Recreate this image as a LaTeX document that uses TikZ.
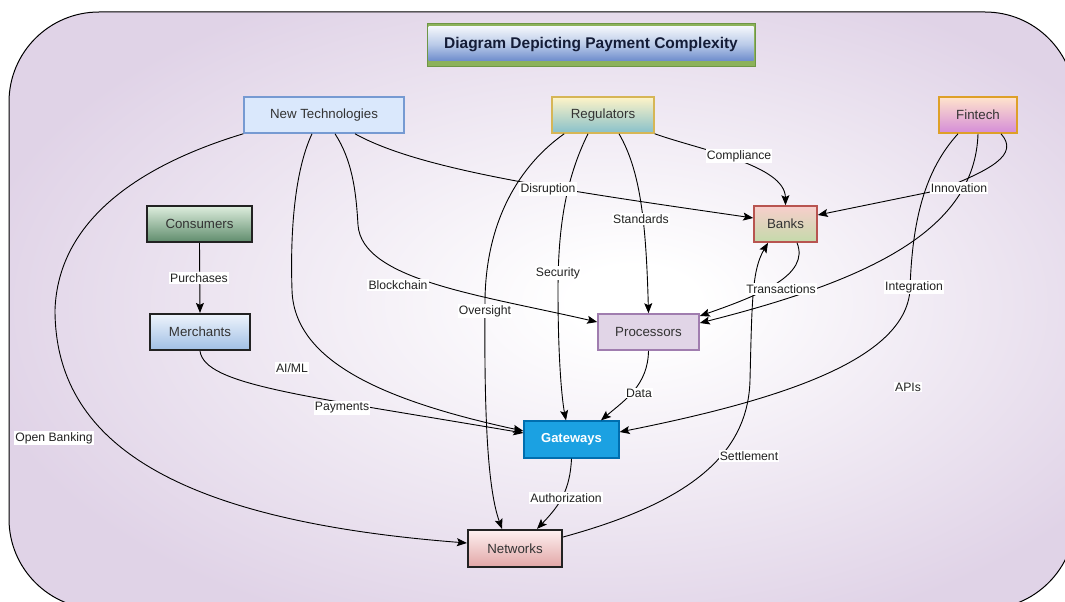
\documentclass[tikz,border=0pt]{standalone}
\usepackage{fontspec}
\setmainfont{Liberation Sans}
\usetikzlibrary{arrows.meta,calc}
\definecolor{lav}{HTML}{E0D3E7}
\definecolor{txt}{HTML}{333333}
\definecolor{lbltxt}{HTML}{222222}
\pgfdeclareradialshading{bgshade}{\pgfpoint{4.6bp}{0.8bp}}{color(0bp)=(white); color(3bp)=(white); color(29bp)=(lav); color(50bp)=(lav)}
\tikzset{
  box/.style={rectangle, minimum height=36pt, inner sep=0pt, font=\fontsize{13.3}{15}\selectfont, text=txt, line width=1.6pt},
  lbl/.style={fill=white, inner sep=1.2pt, font=\fontsize{12.2}{14}\selectfont, text=lbltxt},
  conn/.style={line width=0.9pt, draw=black, -{Stealth[length=10pt,width=8pt,inset=2pt]}},
}
\begin{document}
\begin{tikzpicture}[x=1pt,y=-1pt]
\useasboundingbox (0,0) rectangle (1065,602);
\clip (0,0) rectangle (1065,602);
\fill[white] (0,0) rectangle (1065,602);
\shadedraw[shading=bgshade, draw=black, line width=1pt, rounded corners=90pt] (9,12) rectangle (1075,609);

% title
\node[rectangle, minimum width=328pt, minimum height=43pt, inner sep=0pt, fill={rgb,255:red,140;green,178;blue,90}, draw={rgb,255:red,110;green,150;blue,70}, line width=0.8pt,
  path picture={\shade[top color=white, bottom color={rgb,255:red,85;green,120;blue,195}, middle color={rgb,255:red,185;green,202;blue,232}]
   ([xshift=1.5pt,yshift=-4pt]path picture bounding box.north west) rectangle ([xshift=-1.5pt,yshift=5pt]path picture bounding box.south east);},
  font=\fontsize{15.5}{18}\selectfont\bfseries, text={rgb,255:red,20;green,28;blue,55}] (title) at (591,44.5) {Diagram Depicting Payment Complexity};

% nodes
\node[box, minimum width=160pt, fill={rgb,255:red,218;green,232;blue,252}, draw={rgb,255:red,118;green,154;blue,210}] (nt) at (324,115) {New Technologies};
\node[box, minimum width=102pt, top color={rgb,255:red,255;green,244;blue,200}, bottom color={rgb,255:red,135;green,192;blue,202}, draw={rgb,255:red,214;green,182;blue,86}] (reg) at (603,115) {Regulators};
\node[box, minimum width=78pt, top color={rgb,255:red,255;green,228;blue,204}, bottom color={rgb,255:red,212;green,140;blue,216}, draw={rgb,255:red,222;green,160;blue,40}] (fin) at (978,115) {Fintech};
\node[box, minimum width=105pt, line width=2.2pt, top color={rgb,255:red,222;green,238;blue,222}, bottom color={rgb,255:red,95;green,140;blue,108}, draw={rgb,255:red,34;green,34;blue,34}] (cons) at (199.5,224) {Consumers};
\node[box, minimum width=100pt, line width=2.2pt, top color={rgb,255:red,238;green,244;blue,252}, bottom color={rgb,255:red,160;green,190;blue,228}, draw={rgb,255:red,34;green,34;blue,34}] (merch) at (200,332) {Merchants};
\node[box, minimum width=63pt, top color={rgb,255:red,248;green,206;blue,204}, bottom color={rgb,255:red,196;green,218;blue,170}, draw={rgb,255:red,184;green,84;blue,80}] (banks) at (785.5,224) {Banks};
\node[box, minimum width=101pt, fill={rgb,255:red,225;green,213;blue,231}, draw={rgb,255:red,160;green,125;blue,175}] (proc) at (648.5,332) {Processors};
\node[box, minimum width=95pt, minimum height=37pt, line width=1.3pt, fill={rgb,255:red,27;green,161;blue,226}, draw={rgb,255:red,0;green,110;blue,175}, text=white, font=\fontsize{13}{15}\selectfont\bfseries] (gate) at (571.5,439.5) {Gateways};
\node[box, minimum width=94pt, minimum height=37pt, line width=2.2pt, top color={rgb,255:red,253;green,240;blue,240}, bottom color={rgb,255:red,226;green,166;blue,166}, draw={rgb,255:red,34;green,34;blue,34}] (net) at (515,548.5) {Networks};

% connectors
\draw[conn] (nt.south west) .. controls (140,165) and (58,220) .. (55,310) .. controls (55,440) and (170,520) .. ([yshift=5.5pt]net.west);
\draw[conn] ([xshift=-12pt]nt.south) .. controls (295,170) and (290,230) .. (292,290) .. controls (294,360) and (380,400) .. ([yshift=8.5pt]gate.west);
\draw[conn] ([xshift=11pt]nt.south) .. controls (352,160) and (356,190) .. (358,225) .. controls (362,280) and (480,295) .. ([yshift=10pt]proc.west);
\draw[conn] ([xshift=31pt]nt.south) .. controls (420,170) and (560,190) .. ([yshift=6pt]banks.west);
\draw[conn] ([xshift=13pt]reg.south west) .. controls (520,165) and (486,220) .. (485,300) .. controls (484,420) and (488,490) .. ([xshift=-13pt]net.north);
\draw[conn] ([xshift=-15pt]reg.south) .. controls (565,180) and (558,230) .. (558,290) .. controls (558,360) and (562,400) .. ([xshift=-5.5pt]gate.north);
\draw[conn] ([xshift=16pt]reg.south) .. controls (640,170) and (646,220) .. (proc.north);
\draw[conn] (reg.south east) .. controls (700,150) and (785,165) .. (banks.north);
\draw[conn] ([xshift=23pt]fin.south) .. controls (1020,155) and (990,170) .. (940,190) -- ([yshift=9pt]banks.east);
\draw[conn] (fin.south) .. controls (975,230) and (870,280) .. ([yshift=9pt]proc.east);
\draw[conn] ([xshift=-20pt]fin.south) .. controls (925,170) and (912,220) .. (910,290) .. controls (905,360) and (780,400) .. ([yshift=7.5pt]gate.east);
\draw[conn] ([xshift=11.5pt]banks.south) .. controls (810,275) and (760,295) .. ([yshift=16pt]proc.east);
\draw[conn] (proc.south) .. controls (648,385) and (625,400) .. ([xshift=29.5pt]gate.north);
\draw[conn] (merch.south) .. controls (205,385) and (300,395) .. ([yshift=6.5pt]gate.west);
\draw[conn] (cons.south) -- (merch.north);
\draw[conn] (gate.south) .. controls (570,490) and (560,505) .. ([xshift=22pt]net.north);
\draw[conn] ([yshift=11.5pt]net.east) .. controls (680,505) and (748,460) .. (750,380) .. controls (752,300) and (752,270) .. ([xshift=-17.5pt]banks.south);

% labels
\node[lbl] (lob) at (54,438) {Open Banking};
\node[lbl] (lai) at (292,368) {AI/ML};
\node[lbl] (lbc) at (398,285) {Blockchain};
\node[lbl] (ldi) at (548,189) {Disruption};
\node[lbl] (lov) at (485,311) {Oversight};
\node[lbl] (lse) at (558,273) {Security};
\node[lbl] (lst) at (641,219) {Standards};
\node[lbl] (lco) at (739,156) {Compliance};
\node[lbl] (lin) at (959,188) {Innovation};
\node[lbl] (lig) at (914,287) {Integration};
\node[lbl] (lap) at (908,387) {APIs};
\node[lbl] (ltr) at (781,289) {Transactions};
\node[lbl] (lda) at (639,393) {Data};
\node[lbl] (lpa) at (342,408) {Payments};
\node[lbl] (lpu) at (199,278) {Purchases};
\node[lbl] (lau) at (566,498) {Authorization};
\node[lbl] (lsl) at (749,456) {Settlement};
\end{tikzpicture}
\end{document}
